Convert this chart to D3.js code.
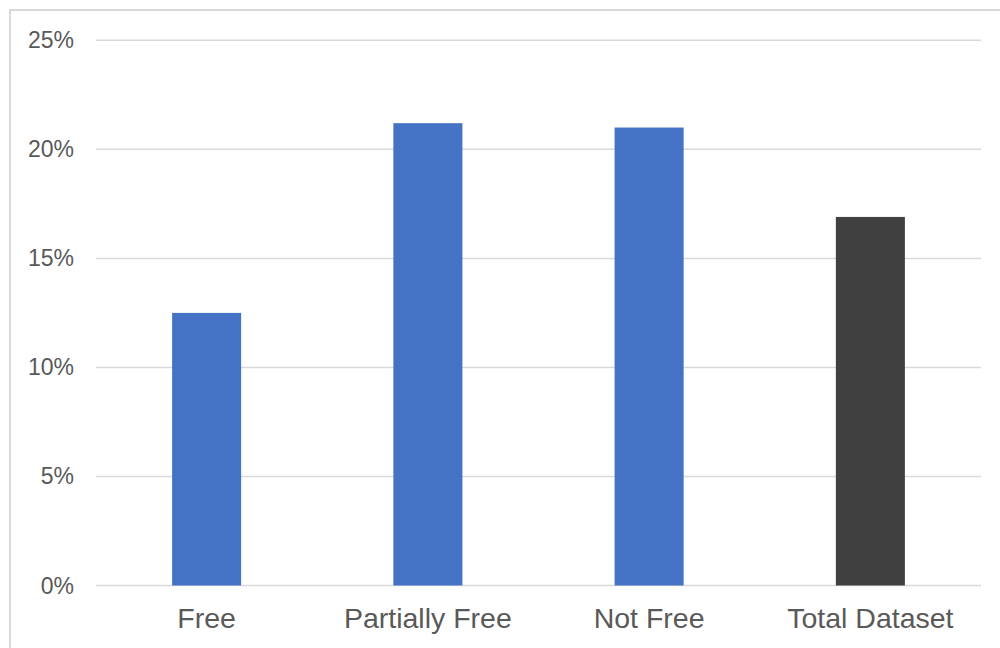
<!DOCTYPE html>
<html><head><meta charset="utf-8">
<script src="https://cdn.jsdelivr.net/npm/d3@7"></script>
<style>html,body{margin:0;padding:0;background:#fff;overflow:hidden}</style>
</head><body>
<svg id="c" width="1000" height="648"></svg>
<script>
const categories = ["Free", "Partially Free", "Not Free", "Total Dataset"];
const values = [12.5, 21.2, 21.0, 16.9];
const barColors = ["#4472C4", "#4472C4", "#4472C4", "#404040"];
const yTicks = [0, 5, 10, 15, 20, 25];

const svg = d3.select("#c");
svg.append("rect").attr("x", 10).attr("y", 10).attr("width", 1100).attr("height", 800)
  .attr("fill", "#fff").attr("stroke", "#d9d9d9").attr("stroke-width", 2);

const x = d3.scaleBand().domain(categories).range([96, 981]).paddingInner(0.688).paddingOuter(0.344);
const y = d3.scaleLinear().domain([0, 25]).range([585.5, 40.3]);

const g = svg.append("g");
g.selectAll("line.grid").data(yTicks).join("line")
  .attr("x1", 96).attr("x2", 981)
  .attr("y1", d => y(d)).attr("y2", d => y(d))
  .attr("stroke", "#d9d9d9").attr("stroke-width", 1.5);

g.selectAll("text.yt").data(yTicks).join("text")
  .attr("x", 74).attr("y", d => y(d) + 8)
  .attr("text-anchor", "end")
  .attr("font-family", "Liberation Sans, Arial, sans-serif")
  .attr("font-size", 23).attr("fill", "#595959")
  .text(d => d + "%");

g.selectAll("rect.bar").data(values).join("rect")
  .attr("x", (d, i) => x(categories[i]))
  .attr("width", x.bandwidth())
  .attr("y", d => y(d))
  .attr("height", d => y(0) - y(d))
  .attr("fill", (d, i) => barColors[i]);

g.selectAll("text.xt").data(categories).join("text")
  .attr("x", d => x(d) + x.bandwidth() / 2).attr("y", 628)
  .attr("text-anchor", "middle")
  .attr("font-family", "Liberation Sans, Arial, sans-serif")
  .attr("font-size", 28.5).attr("fill", "#595959")
  .text(d => d);
</script>
</body></html>
